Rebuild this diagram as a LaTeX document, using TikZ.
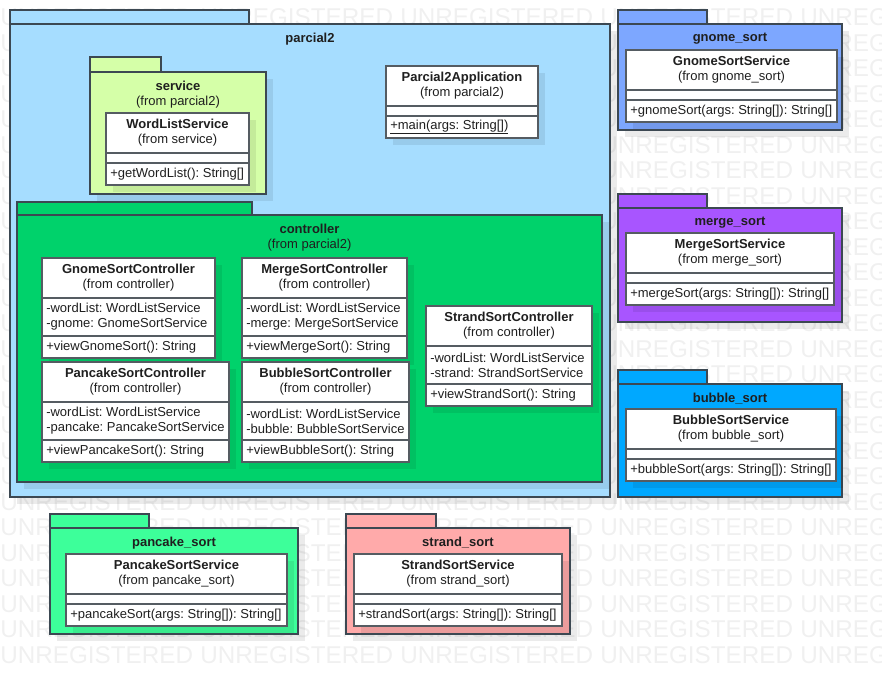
\documentclass[tikz,border=0pt]{standalone}
\usepackage{fontspec}
\setmainfont{Liberation Sans}
\frenchspacing
\definecolor{umlline}{HTML}{3C4852}
\definecolor{classline}{HTML}{555C62}
\definecolor{parcialfill}{HTML}{A6DDFF}
\definecolor{servicefill}{HTML}{D5FFA8}
\definecolor{controllerfill}{HTML}{00D26B}
\definecolor{gnomefill}{HTML}{7DA7FF}
\definecolor{mergefill}{HTML}{A855FF}
\definecolor{bubblefill}{HTML}{00A8FF}
\definecolor{pancakefill}{HTML}{3DFF9A}
\definecolor{strandfill}{HTML}{FFAAAA}
\tikzset{
  watermark/.style={anchor=west, inner sep=0pt, text=black!6,
    font=\fontsize{18.2}{18.2}\selectfont},
  pkgline/.style={draw=umlline, line width=1.2pt},
  shadowbox/.style={fill=black, fill opacity=0.08},
  classbox/.style={draw=classline, fill=white, line width=1.1pt},
  classsep/.style={draw=classline, line width=1.1pt},
  ptitle/.style={anchor=north, inner sep=0pt, align=center, text=black!88},
  ctitle/.style={inner sep=0pt, align=center, text=black!88},
  cbody/.style={anchor=west, inner sep=0pt, xshift=3pt, align=left, text=black!88}
}
% package: id, x1, tab top, tab right, body top, x2, y2, fill, title
\newcommand{\umlpkg}[9]{%
  \fill[shadowbox] ({#2+7},{#5+7}) rectangle ({#6+7},{#7+7});
  \draw[pkgline, fill=#8] (#2,#3) rectangle (#4,#5);
  \draw[pkgline, fill=#8] (#2,#5) rectangle (#6,#7);
  \node[ptitle] (#1-title) at ({(#2+#6)/2},{#5+9}) {#9};
}
% class: id, x1, y1, x2, attribute height, name, from, attributes, operations
\newcommand{\umlclass}[9]{%
  \fill[shadowbox] ({#2+7},{#3+7}) rectangle ({#4+7},{#3+62+#5+7});
  \draw[classbox] (#2,#3) rectangle (#4,{#3+62+#5});
  \draw[classsep] (#2,{#3+40}) -- (#4,{#3+40}) (#2,{#3+40+#5}) -- (#4,{#3+40+#5});
  \node[ctitle] (#1-name) at ({(#2+#4)/2},{#3+20}) {\textbf{#6}\\(from #7)};
  \def\attrtext{#8}%
  \ifx\attrtext\empty\else
    \node[cbody] (#1-attr) at (#2,{#3+40+#5/2}) {#8};
  \fi
  \node[cbody] (#1-op) at (#2,{#3+40+#5+11}) {#9};
}
\begin{document}
\begin{tikzpicture}[x=0.75pt, y=-0.75pt, font=\fontsize{9.75}{11.25}\selectfont]
  \useasboundingbox (0,0) rectangle (882,674);
  \begin{scope}
    \clip (0,0) rectangle (882,674);
    \foreach \r in {0,...,25}
      \foreach \c in {0,...,4}{
        \pgfmathtruncatemacro\hidden{(\c>0)&&(\c<3)&&(\r>0)&&(\r<19)}
        \ifnum\hidden=0
          \node[watermark] (wm-\r-\c) at ({200*\c},{17.5+25.5*\r}) {UNREGISTERED};
        \fi
      }
  \end{scope}

  \umlpkg{parcial2}{10}{10}{249}{24}{610}{497}{parcialfill}{\textbf{parcial2}}
  \umlpkg{service}{90}{57}{161}{72}{266}{194}{servicefill}{\textbf{service}\\(from parcial2)}
  \umlclass{wordlist}{106}{113}{249}{10}{WordListService}{service}{}{+getWordList(): String[]}
  \umlclass{app}{386}{66}{538}{10}{Parcial2Application}{parcial2}{}{\underline{+main(args: String[])}}

  \umlpkg{controller}{17}{202}{252}{215}{602}{482}{controllerfill}{\textbf{controller}\\(from parcial2)}
  \umlclass{gnomectl}{42}{258}{215}{38}{GnomeSortController}{controller}%
    {-wordList: WordListService\\-gnome: GnomeSortService}{+viewGnomeSort(): String}
  \umlclass{mergectl}{242}{258}{407}{38}{MergeSortController}{controller}%
    {-wordList: WordListService\\-merge: MergeSortService}{+viewMergeSort(): String}
  \umlclass{pancakectl}{42}{362}{229}{38}{PancakeSortController}{controller}%
    {-wordList: WordListService\\-pancake: PancakeSortService}{+viewPancakeSort(): String}
  \umlclass{bubblectl}{242}{362}{409}{38}{BubbleSortController}{controller}%
    {-wordList: WordListService\\-bubble: BubbleSortService}{+viewBubbleSort(): String}
  \umlclass{strandctl}{426}{306}{592}{38}{StrandSortController}{controller}%
    {-wordList: WordListService\\-strand: StrandSortService}{+viewStrandSort(): String}

  \umlpkg{gnomesort}{618}{10}{707}{24}{842}{130}{gnomefill}{\textbf{gnome\_sort}}
  \umlclass{gnomesvc}{626}{50}{837}{10}{GnomeSortService}{gnome\_sort}{}{+gnomeSort(args: String[]): String[]}
  \umlpkg{mergesort}{618}{194}{707}{208}{842}{322}{mergefill}{\textbf{merge\_sort}}
  \umlclass{mergesvc}{626}{233}{834}{10}{MergeSortService}{merge\_sort}{}{+mergeSort(args: String[]): String[]}
  \umlpkg{bubblesort}{618}{370}{707}{384}{842}{497}{bubblefill}{\textbf{bubble\_sort}}
  \umlclass{bubblesvc}{626}{409}{836}{10}{BubbleSortService}{bubble\_sort}{}{+bubbleSort(args: String[]): String[]}

  \umlpkg{pancakesort}{50}{514}{149}{528}{298}{634}{pancakefill}{\textbf{pancake\_sort}}
  \umlclass{pancakesvc}{66}{554}{287}{10}{PancakeSortService}{pancake\_sort}{}{+pancakeSort(args: String[]): String[]}
  \umlpkg{strandsort}{346}{514}{436}{528}{570}{634}{strandfill}{\textbf{strand\_sort}}
  \umlclass{strandsvc}{354}{554}{562}{10}{StrandSortService}{strand\_sort}{}{+strandSort(args: String[]): String[]}
\end{tikzpicture}
\end{document}
